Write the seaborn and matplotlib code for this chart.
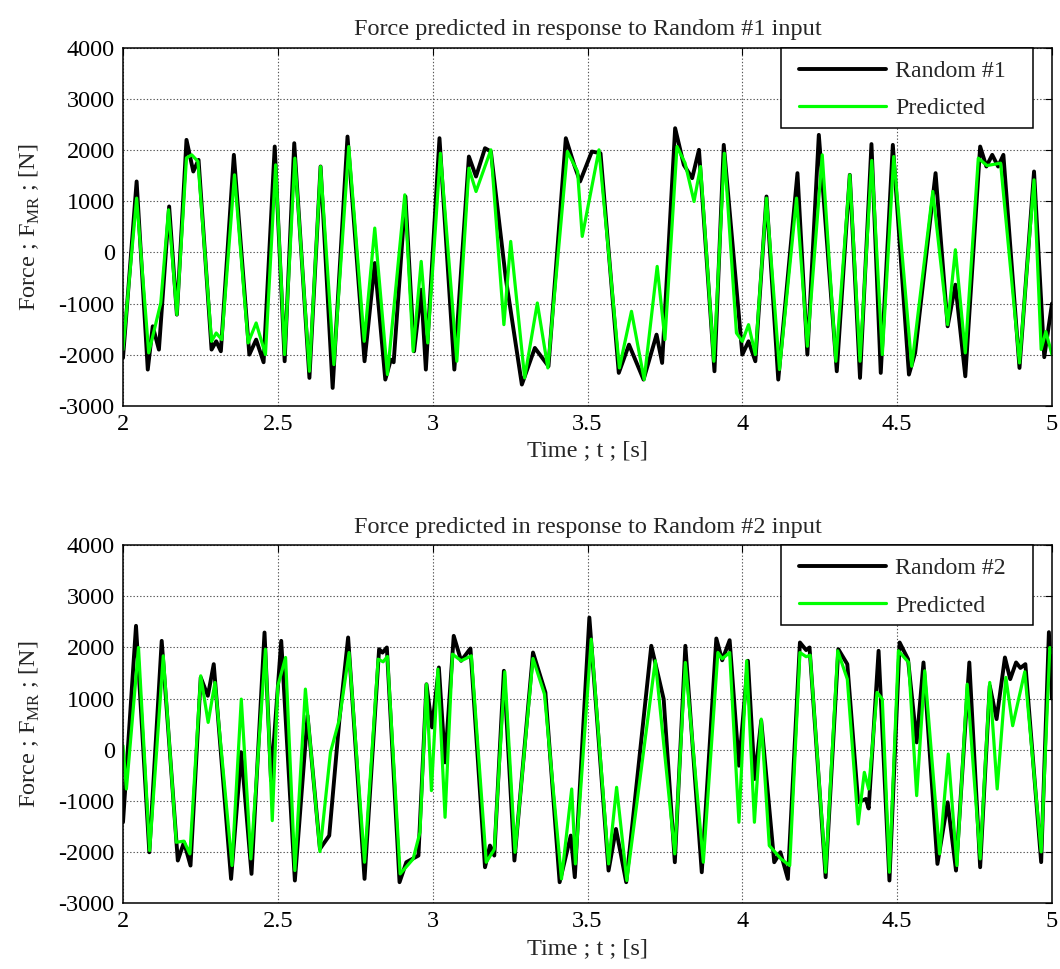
import numpy as np
import pandas as pd
import matplotlib
matplotlib.use("Agg")
import matplotlib.pyplot as plt
from matplotlib.patches import Rectangle
from matplotlib.lines import Line2D
import seaborn as sns

# ---------------- data ----------------
t1_meas = [2.000, 2.044, 2.080, 2.096, 2.116, 2.149, 2.174, 2.205, 2.227, 2.244, 2.286, 2.301, 2.316,
           2.358, 2.408, 2.430, 2.454, 2.490, 2.522, 2.553, 2.602, 2.638, 2.677, 2.725, 2.780, 2.813,
           2.847, 2.865, 2.874, 2.912, 2.940, 2.963, 2.978, 3.022, 3.070, 3.117, 3.140, 3.169, 3.188,
           3.236, 3.288, 3.330, 3.374, 3.430, 3.457, 3.476, 3.514, 3.542, 3.601, 3.634, 3.681, 3.723,
           3.741, 3.783, 3.811, 3.838, 3.860, 3.910, 3.940, 4.000, 4.020, 4.042, 4.078, 4.116, 4.178,
           4.210, 4.247, 4.305, 4.347, 4.380, 4.417, 4.447, 4.486, 4.538, 4.558, 4.624, 4.663, 4.688,
           4.720, 4.768, 4.788, 4.807, 4.826, 4.843, 4.895, 4.942, 4.975, 5.000]
f1_meas = [-2065, 1388, -2293, -1446, -1902, 899, -1218, 2202, 1583, 1811, -1902, -1740, -1935,
           1909, -2000, -1707, -2150, 2072, -2130, 2137, -2456, 1681, -2652, 2267, -2130, -208,
           -2489, -2098, -2150, 1094, -1935, -730, -2293, 2235, -2293, 1876, 1485, 2039, 1974,
           -502, -2586, -1870, -2228, 2235, 1713, 1388, 1974, 1941, -2358, -1805, -2489, -1609,
           -2163, 2430, 1713, 1453, 2007, -2326, 2104, -2000, -1740, -2130, 1094, -2489, 1551,
           -2000, 2300, -2326, 1518, -2456, 2120, -2358, 2104, -2391, -1967, 1551, -1446, -632,
           -2424, 2072, 1681, 1909, 1681, 1909, -2261, 1583, -2050, -1000]

t1_pred = [2.000, 2.044, 2.083, 2.122, 2.147, 2.174, 2.205, 2.222, 2.242, 2.286, 2.301, 2.319, 2.360,
           2.404, 2.430, 2.460, 2.493, 2.522, 2.555, 2.602, 2.638, 2.681, 2.729, 2.779, 2.813, 2.854,
           2.910, 2.937, 2.963, 2.984, 3.025, 3.078, 3.117, 3.140, 3.188, 3.230, 3.252, 3.297, 3.338,
           3.372, 3.435, 3.468, 3.483, 3.537, 3.603, 3.642, 3.683, 3.725, 3.750, 3.789, 3.815, 3.844,
           3.865, 3.908, 3.942, 3.981, 4.000, 4.020, 4.042, 4.078, 4.120, 4.175, 4.210, 4.258, 4.302,
           4.347, 4.380, 4.418, 4.452, 4.489, 4.547, 4.615, 4.663, 4.688, 4.720, 4.762, 4.790, 4.834,
           4.895, 4.942, 4.965, 4.980, 5.000]
f1_pred = [-1902, 1062, -1967, -990, 834, -1218, 1850, 1909, 1780, -1740, -1577, -1707, 1518,
           -1772, -1381, -2000, 1713, -2000, 1844, -2326, 1681, -2196, 2072, -1740, 476, -2391,
           1127, -1935, -176, -1772, 1941, -2130, 1648, 1192, 2007, -1414, 215, -2456, -990,
           -2261, 1974, 1583, 313, 2007, -2261, -1153, -2489, -274, -1707, 2072, 1750, 997,
           1681, -2130, 1941, -1577, -1740, -1414, -2000, 1062, -2293, 1062, -1837, 1909, -2130,
           1518, -2130, 1800, -2000, 1876, -2228, 1192, -1414, 52, -1967, 1844, 1700, 1746,
           -2163, 1420, -1900, -1550, -2000]

t2_meas = [2.000, 2.042, 2.085, 2.125, 2.177, 2.197, 2.218, 2.251, 2.274, 2.293, 2.349, 2.382, 2.415,
           2.457, 2.478, 2.511, 2.555, 2.596, 2.636, 2.666, 2.699, 2.727, 2.780, 2.827, 2.838, 2.852,
           2.893, 2.915, 2.954, 2.980, 2.998, 3.020, 3.040, 3.068, 3.092, 3.122, 3.169, 3.185, 3.199,
           3.230, 3.264, 3.324, 3.364, 3.410, 3.446, 3.459, 3.506, 3.568, 3.592, 3.625, 3.706, 3.746,
           3.782, 3.816, 3.869, 3.916, 3.935, 3.959, 3.989, 4.018, 4.040, 4.061, 4.103, 4.123, 4.147,
           4.186, 4.206, 4.217, 4.269, 4.310, 4.339, 4.374, 4.399, 4.408, 4.440, 4.475, 4.508, 4.535,
           4.563, 4.585, 4.630, 4.663, 4.690, 4.733, 4.768, 4.799, 4.821, 4.848, 4.865, 4.884, 4.898,
           4.914, 4.965, 4.990, 5.000]
f2_meas = [-1420, 2424, -2007, 2130, -2169, -1811, -2267, 1414, 1055, 1674, -2528, -52, -2430,
           2293, -600, 2130, -2560, 665, -1941, -1681, 599, 2196, -2528, 1967, 1900, 2000,
           -2593, -2202, -2072, 1280, 437, 1609, -248, 2228, 1740, 1981, -2300, -1876, -2072,
           1544, -2169, 1902, 1121, -2593, -1681, -2495, 2586, -2365, -1551, -2593, 2033, 990,
           -2202, 2033, -2398, 2176, 1750, 2143, -313, 1740, -573, 567, -2202, -2007, -2528,
           2098, 1950, 2000, -2495, 1967, 1674, -1029, -964, -1150, 1935, -2560, 2098, 1772,
           143, 1707, -2235, -1029, -2365, 1707, -2300, 1251, 599, 1805, 1381, 1707, 1600,
           1674, -2200, 2300, 1000]

t2_pred = [2.000, 2.011, 2.050, 2.086, 2.130, 2.172, 2.197, 2.216, 2.251, 2.275, 2.297, 2.352, 2.382,
           2.413, 2.460, 2.482, 2.500, 2.525, 2.555, 2.589, 2.636, 2.670, 2.699, 2.730, 2.780, 2.824,
           2.840, 2.854, 2.895, 2.937, 2.959, 2.980, 2.996, 3.017, 3.040, 3.064, 3.092, 3.125, 3.173,
           3.199, 3.233, 3.266, 3.324, 3.361, 3.416, 3.449, 3.461, 3.512, 3.568, 3.594, 3.627, 3.719,
           3.782, 3.816, 3.874, 3.921, 3.935, 3.959, 3.989, 4.014, 4.039, 4.061, 4.087, 4.125, 4.153,
           4.186, 4.206, 4.219, 4.269, 4.308, 4.339, 4.374, 4.394, 4.408, 4.435, 4.452, 4.475, 4.504,
           4.537, 4.563, 4.589, 4.637, 4.665, 4.693, 4.726, 4.768, 4.799, 4.823, 4.851, 4.873, 4.912,
           4.965, 4.993, 5.000]
f2_pred = [78, -769, 2000, -1974, 1837, -1811, -1790, -2039, 1446, 534, 1316, -2267, 990,
           -2137, 1967, -1388, 1251, 1805, -2365, 1186, -1994, -52, 599, 1902, -2202, 1772,
           1720, 1824, -2430, -2137, -1616, 1283, -801, 1577, -1323, 1870, 1740, 1837, -2202,
           -1950, 1525, -2007, 1785, 1088, -2528, -769, -2235, 2163, -2235, -736, -2560, 1740,
           -2039, 1707, -2202, 1902, 1780, 1902, -1420, 1740, -1420, 599, -1876, -2137, -2267,
           1902, 1820, 1850, -2398, 1935, 1381, -1453, -443, -769, 1121, 990, -2398, 1935,
           1707, -899, 1544, -2039, -85, -2267, 1283, -2137, 1316, -769, 1414, 469, 1525,
           -2000, 2000, 1900]

panels = [
    ("Force predicted in response to Random #1 input", "Random #1", t1_meas, f1_meas, t1_pred, f1_pred),
    ("Force predicted in response to Random #2 input", "Random #2", t2_meas, f2_meas, t2_pred, f2_pred),
]
x_ticks = [2, 2.5, 3, 3.5, 4, 4.5, 5]
x_tick_labels = ["2", "2.5", "3", "3.5", "4", "4.5", "5"]
y_ticks = [-3000, -2000, -1000, 0, 1000, 2000, 3000, 4000]

# ---------------- style ----------------
sns.set_theme(style="white")
plt.rcParams["font.family"] = ["Liberation Serif", "DejaVu Serif"]
plt.rcParams["mathtext.fontset"] = "custom"
plt.rcParams["mathtext.rm"] = "Liberation Serif"
FS = 17.5
LFS = 17.2
BLACK_LW, GREEN_LW = 2.8, 2.3

fig = plt.figure(figsize=(10.60, 9.69), dpi=100)
W, H = 1060.0, 969.0
ax_left, ax_right = 123 / W, 1052 / W
boxes = [(48, 405.7), (545.3, 903)]

for (title, lab, tm, fm, tp, fp), (ytop, ybot) in zip(panels, boxes):
    ax = fig.add_axes([ax_left, 1 - ybot / H, ax_right - ax_left, (ybot - ytop) / H])
    df = pd.DataFrame({"t": tm, "F": fm})
    dp = pd.DataFrame({"t": tp, "F": fp})
    sns.lineplot(data=df, x="t", y="F", ax=ax, color="black", lw=BLACK_LW,
                 sort=False, estimator=None, solid_joinstyle="round", solid_capstyle="round")
    sns.lineplot(data=dp, x="t", y="F", ax=ax, color="#00FF00", lw=GREEN_LW,
                 sort=False, estimator=None, solid_joinstyle="round", solid_capstyle="round")
    ax.set_xlim(2, 5)
    ax.set_ylim(-3000, 4000)
    ax.set_xticks(x_ticks)
    ax.set_xticklabels(x_tick_labels)
    ax.set_yticks(y_ticks)
    ax.set_yticklabels([str(v) for v in y_ticks])
    ax.grid(True, linestyle=(0, (1.2, 1.8)), color="#555555", linewidth=0.8)
    ax.tick_params(direction="in", top=True, right=True, length=5, width=0.8,
                   labelsize=FS, colors="black", pad=6)
    for sp in ax.spines.values():
        sp.set_color("black")
        sp.set_linewidth(1.1)
    ax.set_xlabel("Time ; t ; [s]", fontsize=FS, labelpad=4)
    ax.set_ylabel("Force ; F$_{\\mathregular{MR}}$ ; [N]", fontsize=FS, labelpad=12)
    ax.set_title(title, fontsize=FS, pad=9)

    # legend box (MATLAB-style) and entries
    ax.add_patch(Rectangle((0.7083, 0.7764), 0.9795 - 0.7083, 1.0 - 0.7764,
                           transform=ax.transAxes, facecolor="white", edgecolor="black",
                           lw=1.1, zorder=4, clip_on=False))
    handles = [Line2D([], [], color="black", lw=BLACK_LW),
               Line2D([], [], color="#00FF00", lw=GREEN_LW)]
    leg = ax.legend(handles, [lab, "Predicted"], loc="upper left",
                    bbox_to_anchor=(0.7276, 0.966), borderaxespad=0.0, borderpad=0.0,
                    frameon=False, fontsize=LFS, handlelength=3.66, handletextpad=0.37,
                    labelspacing=0.66)
    leg.set_zorder(5)

fig.savefig("out.png", dpi=100)
